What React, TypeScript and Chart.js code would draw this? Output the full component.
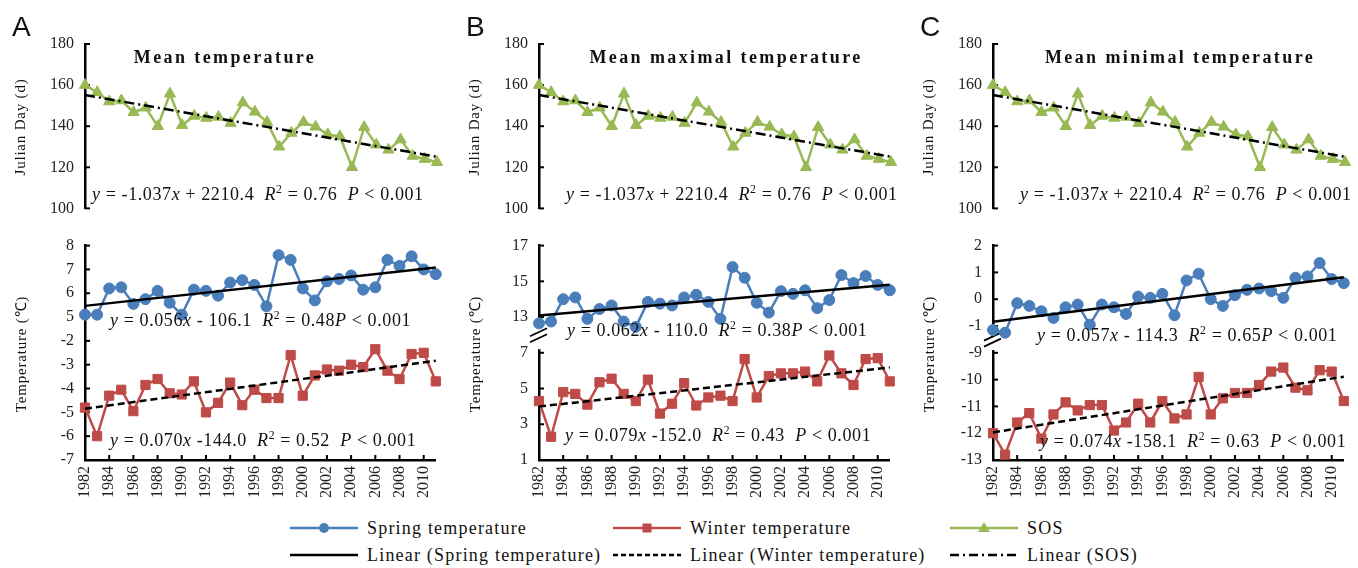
import React, { useEffect, useRef } from 'react';
import { Chart, registerables } from 'chart.js';

Chart.register(...registerables);

// ---------------- DATA ----------------
const YEARS = ['1982', '1983', '1984', '1985', '1986', '1987', '1988', '1989', '1990', '1991',
  '1992', '1993', '1994', '1995', '1996', '1997', '1998', '1999', '2000', '2001',
  '2002', '2003', '2004', '2005', '2006', '2007', '2008', '2009', '2010', '2011'];

const SOS = [160, 156.5, 152, 152.5, 146.8, 149, 140, 155.8, 140.5, 145,
  144, 144.5, 141.5, 151.5, 147, 142, 130, 136.7, 142, 139.7,
  136, 135, 120, 139.5, 131, 128.5, 133.5, 125.5, 124, 122.5];
const SOS_TREND = [155.2, 125.1];

const SPRING_MEAN = [5.1, 5.1, 6.2, 6.25, 5.55, 5.75, 6.1, 5.6, 5.1, 6.15,
  6.1, 5.9, 6.45, 6.55, 6.35, 5.45, 7.6, 7.4, 6.2, 5.7,
  6.5, 6.6, 6.75, 6.15, 6.25, 7.4, 7.15, 7.55, 7.0, 6.8];
const WINTER_MEAN = [-4.8, -6.0, -4.3, -4.05, -4.95, -3.85, -3.6, -4.2, -4.25, -3.7,
  -5.0, -4.6, -3.75, -4.7, -4.05, -4.4, -4.4, -2.6, -4.3, -3.45,
  -3.2, -3.25, -3.0, -3.1, -2.35, -3.25, -3.6, -2.55, -2.5, -3.7];
const SPRING_MEAN_TREND = [5.47, 7.08];
const WINTER_MEAN_TREND = [-4.85, -2.83];

const SPRING_MAX = [12.65, 12.75, 14.0, 14.1, 12.9, 13.45, 13.65, 12.75, 12.45, 13.85,
  13.75, 13.65, 14.1, 14.25, 13.85, 12.9, 15.8, 15.2, 13.8, 13.25,
  14.45, 14.3, 14.5, 13.5, 13.95, 15.35, 14.9, 15.3, 14.8, 14.5];
const WINTER_MAX = [4.3, 2.3, 4.8, 4.7, 4.1, 5.35, 5.55, 4.7, 4.3, 5.5,
  3.6, 4.15, 5.3, 4.05, 4.5, 4.6, 4.3, 6.65, 4.5, 5.7,
  5.85, 5.85, 5.95, 5.4, 6.85, 5.85, 5.2, 6.65, 6.7, 5.4];
const SPRING_MAX_TREND = [13.09, 14.81];
const WINTER_MAX_TREND = [3.99, 6.18];

const SPRING_MIN = [-1.15, -1.25, -0.15, -0.25, -0.45, -0.7, -0.3, -0.2, -0.95, -0.2,
  -0.3, -0.55, 0.1, 0.05, 0.2, -0.6, 0.7, 0.95, 0.0, -0.25,
  0.15, 0.35, 0.4, 0.3, 0.05, 0.8, 0.85, 1.35, 0.75, 0.6];
const WINTER_MIN = [-12.0, -12.8, -11.6, -11.25, -12.2, -11.3, -10.85, -11.15, -10.95, -10.95,
  -11.9, -11.6, -10.9, -11.6, -10.8, -11.45, -11.3, -9.9, -11.3, -10.7,
  -10.5, -10.5, -10.2, -9.7, -9.55, -10.3, -10.4, -9.65, -9.7, -10.8];
const SPRING_MIN_TREND = [-0.84, 0.82];
const WINTER_MIN_TREND = [-11.97, -9.89];

const SOS_TICKS = [100, 120, 140, 160, 180];
const MEAN_TICKS = [-7, -6, -5, -4, -3, -2, 5, 6, 7, 8];
const MAX_TICKS = [1, 3, 5, 7, 13, 15, 17];
const MIN_TICKS = [-13, -12, -11, -10, -9, -1, 0, 1, 2];

// ---------------- STYLE ----------------
const BLUE = '#4A7EBB';
const RED = '#BE4B48';
const GREEN = '#98B954';
const SERIF = '"Liberation Serif", "Times New Roman", serif';
const TICK_FONT = { family: SERIF, size: 16 };
const X_FONT = { family: SERIF, size: 16 };

// map a real value onto the broken axis (slot index space)
function toSlot(ticks: number[], segStart: number, v: number) {
  const step = ticks[segStart + 1] - ticks[segStart];
  return segStart + (v - ticks[segStart]) / step;
}

const innerTicks = {
  id: 'innerTicks',
  beforeDatasetsDraw(chart: any, _args: any, opts: any) {
    const { ctx, chartArea } = chart;
    ctx.save();
    ctx.strokeStyle = '#000';
    ctx.lineWidth = 2;
    const ys = chart.scales.y;
    ys.ticks.forEach((t: any) => {
      const p = ys.getPixelForValue(t.value);
      ctx.beginPath();
      ctx.moveTo(chartArea.left, p);
      ctx.lineTo(chartArea.left + 5, p);
      ctx.stroke();
    });
    const xs = chart.scales.x;
    if (xs.options.display !== false) {
      xs.ticks.forEach((t: any, i: number) => {
        if (i % 2 !== 0) return;
        const p = xs.getPixelForValue(t.value);
        ctx.beginPath();
        ctx.moveTo(p, chartArea.bottom);
        ctx.lineTo(p, chartArea.bottom - 5);
        ctx.stroke();
      });
    }
    if (opts && opts.breakAt) {
      const [lo, hi] = opts.breakAt;
      const yTop = ys.getPixelForValue(hi - 0.12);
      const yBot = ys.getPixelForValue(lo + 0.1);
      ctx.fillStyle = '#fff';
      ctx.fillRect(chartArea.left - 3, yTop, 6, yBot - yTop);
      const yc = (yTop + yBot) / 2;
      ctx.lineWidth = 1.8;
      [-3, 3].forEach((off) => {
        ctx.beginPath();
        ctx.moveTo(chartArea.left - 9, yc + off + 4);
        ctx.lineTo(chartArea.left + 8, yc + off - 4);
        ctx.stroke();
      });
    }
    ctx.restore();
  },
};

const PAD_R = 24;
const AXIS_W = 85;
const CW = AXIS_W + 352 + PAD_R;

function trendData(pair: number[], map: (v: number) => number) {
  return [
    { x: YEARS[0], y: map(pair[0]) },
    { x: YEARS[YEARS.length - 1], y: map(pair[1]) },
  ];
}

function upperConfig(): any {
  return {
    type: 'line',
    data: {
      labels: YEARS,
      datasets: [
        {
          data: trendData(SOS_TREND, (v) => v),
          borderColor: '#000', borderWidth: 2.5, borderDash: [10, 4, 2, 4], pointRadius: 0,
        },
        {
          data: SOS,
          borderColor: GREEN, borderWidth: 2.5,
          pointStyle: 'triangle', pointRadius: 6.5,
          pointBackgroundColor: GREEN, pointBorderColor: GREEN, pointBorderWidth: 1,
        },
      ],
    },
    options: {
      animation: false, responsive: false, devicePixelRatio: 1,
      layout: { padding: { left: 0, right: PAD_R, top: 44, bottom: 10 } },
      elements: { line: { tension: 0 } },
      plugins: { legend: { display: false }, tooltip: { enabled: false } },
      scales: {
        x: { type: 'category', display: false, offset: false },
        y: {
          min: 100, max: 180,
          afterBuildTicks: (s: any) => { s.ticks = SOS_TICKS.map((v) => ({ value: v })); },
          ticks: { font: TICK_FONT, color: '#222', padding: 11 },
          grid: { display: false, drawTicks: false },
          border: { display: true, color: '#000', width: 2.5 },
          afterFit: (s: any) => { s.width = AXIS_W; },
        },
      },
    },
    plugins: [innerTicks],
  };
}

function lowerConfig(ticks: number[], upperStart: number, spring: number[], winter: number[],
  springTrend: number[], winterTrend: number[], breakAt: number[] | null): any {
  const mapS = (v: number) => toSlot(ticks, upperStart, v);
  const mapW = (v: number) => toSlot(ticks, 0, v);
  return {
    type: 'line',
    data: {
      labels: YEARS,
      datasets: [
        {
          data: trendData(springTrend, mapS),
          borderColor: '#000', borderWidth: 2.5, pointRadius: 0,
        },
        {
          data: trendData(winterTrend, mapW),
          borderColor: '#000', borderWidth: 2.5, borderDash: [7, 4], pointRadius: 0,
        },
        {
          data: spring.map(mapS),
          borderColor: BLUE, borderWidth: 2.5,
          pointStyle: 'circle', pointRadius: 5.5,
          pointBackgroundColor: BLUE, pointBorderColor: BLUE, pointBorderWidth: 1,
        },
        {
          data: winter.map(mapW),
          borderColor: RED, borderWidth: 2.5,
          pointStyle: 'rect', pointRadius: 6.5,
          pointBackgroundColor: RED, pointBorderColor: RED, pointBorderWidth: 1,
        },
      ],
    },
    options: {
      animation: false, responsive: false, devicePixelRatio: 1,
      layout: { padding: { left: 0, right: PAD_R, top: 11, bottom: 0 } },
      elements: { line: { tension: 0 } },
      plugins: { legend: { display: false }, tooltip: { enabled: false }, innerTicks: { breakAt } },
      scales: {
        x: {
          type: 'category', offset: false,
          ticks: {
            autoSkip: false, minRotation: 90, maxRotation: 90, padding: 6,
            font: X_FONT, color: '#222',
            callback: (_v: any, i: number) => (i % 2 === 0 ? YEARS[i] : ''),
          },
          grid: { display: false, drawTicks: false },
          border: { display: true, color: '#000', width: 2.5 },
          afterFit: (s: any) => { s.height = 45; },
        },
        y: {
          min: 0, max: ticks.length - 1,
          ticks: {
            stepSize: 1, font: TICK_FONT, color: '#222', padding: 11,
            callback: (v: any) => String(ticks[Math.round(Number(v))]),
          },
          grid: { display: false, drawTicks: false },
          border: { display: true, color: '#000', width: 2.5 },
          afterFit: (s: any) => { s.width = AXIS_W; },
        },
      },
    },
    plugins: [innerTicks],
  };
}

function ChartBox({ left, top, width, height, make }: any) {
  const ref = useRef<HTMLCanvasElement>(null);
  useEffect(() => {
    const chart = new Chart(ref.current as HTMLCanvasElement, make());
    return () => chart.destroy();
  }, []);
  return (
    <canvas ref={ref} width={width} height={height}
      style={{ position: 'absolute', left, top, width, height }} />
  );
}

const eqStyle: React.CSSProperties = {
  position: 'absolute', fontFamily: SERIF, fontSize: 18, letterSpacing: 0.6,
  whiteSpace: 'pre', color: '#111', lineHeight: '22px',
};

function Eq({ left, cy, slope, rest, r2, gapP }: any) {
  return (
    <div style={{ ...eqStyle, left, top: cy - 11 }}>
      <i>y</i>{' = ' + slope}<i>x</i>{rest + '  '}<i>R</i>
      <sup style={{ fontSize: '0.65em', lineHeight: 0 }}>2</sup>
      {' = ' + r2 + gapP}<i>P</i>{' < 0.001'}
    </div>
  );
}

function Title({ cx, text }: any) {
  return (
    <div style={{
      position: 'absolute', left: cx, top: 47, transform: 'translateX(-50%)',
      fontFamily: SERIF, fontWeight: 'bold', fontSize: 18, letterSpacing: 2.4, whiteSpace: 'pre',
    }}>{text}</div>
  );
}

function VTitle({ cx, cy, text }: any) {
  return (
    <div style={{
      position: 'absolute', left: cx, top: cy, transform: 'translate(-50%,-50%) rotate(-90deg)',
      fontFamily: SERIF, fontSize: 15, letterSpacing: 0.8, whiteSpace: 'pre', color: '#111',
    }}>{text}</div>
  );
}

function Letter({ left, text }: any) {
  return (
    <div style={{
      position: 'absolute', left, top: 12, fontFamily: '"Liberation Sans", Arial, sans-serif',
      fontSize: 28, lineHeight: '30px',
    }}>{text}</div>
  );
}

function LegendIcon({ color, marker, dash }: any) {
  return (
    <svg width={70} height={16} style={{ position: 'absolute', left: 0, top: -8 }}>
      <line x1={0} y1={8} x2={68} y2={8} stroke={color} strokeWidth={2.5}
        strokeDasharray={dash || undefined} />
      {marker === 'circle' && <circle cx={34} cy={8} r={5} fill={color} />}
      {marker === 'rect' && <rect x={29.5} y={3.5} width={9} height={9} fill={color} />}
      {marker === 'triangle' && <polygon points="34,2 40,12 28,12" fill={color} />}
    </svg>
  );
}

function LegendItem({ x, cy, color, marker, dash, text }: any) {
  return (
    <div style={{ position: 'absolute', left: x, top: cy }}>
      <LegendIcon color={color} marker={marker} dash={dash} />
      <div style={{
        position: 'absolute', left: 77, top: -12, lineHeight: '24px', fontFamily: SERIF,
        fontSize: 18, letterSpacing: 1.2, whiteSpace: 'pre', color: '#111',
      }}>{text}</div>
    </div>
  );
}

const PANELS = [
  { key: 'A', left: 0, title: 'Mean temperature', titleX: 225, ticks: MEAN_TICKS, upper: 6,
    spring: SPRING_MEAN, winter: WINTER_MEAN, st: SPRING_MEAN_TREND, wt: WINTER_MEAN_TREND, brk: null,
    eqS: { slope: '0.056', rest: ' - 106.1', r2: '0.48', gapP: '', cy: 320, dx: 25 },
    eqW: { slope: '0.070', rest: ' -144.0', r2: '0.52', gapP: '  ', cy: 440, dx: 25 } },
  { key: 'B', left: 454, title: 'Mean maximal temperature', titleX: 726, ticks: MAX_TICKS, upper: 4,
    spring: SPRING_MAX, winter: WINTER_MAX, st: SPRING_MAX_TREND, wt: WINTER_MAX_TREND, brk: [3, 4],
    eqS: { slope: '0.062', rest: ' - 110.0', r2: '0.38', gapP: '', cy: 330, dx: 28 },
    eqW: { slope: '0.079', rest: ' -152.0', r2: '0.43', gapP: '  ', cy: 435, dx: 26 } },
  { key: 'C', left: 908, title: 'Mean minimal temperature', titleX: 1180, ticks: MIN_TICKS, upper: 5,
    spring: SPRING_MIN, winter: WINTER_MIN, st: SPRING_MIN_TREND, wt: WINTER_MIN_TREND, brk: [4, 5],
    eqS: { slope: '0.057', rest: ' - 114.3', r2: '0.65', gapP: '', cy: 335, dx: 44 },
    eqW: { slope: '0.074', rest: ' -158.1', r2: '0.63', gapP: '  ', cy: 441, dx: 47 } },
];

export default function App() {
  return (
    <div style={{
      position: 'fixed', left: 0, top: 0, width: 1358, height: 568, overflow: 'hidden',
      background: '#fff', color: '#111',
    }}>
      {PANELS.map((p) => (
        <React.Fragment key={p.key}>
          <ChartBox left={p.left} top={0} width={CW} height={229} make={upperConfig} />
          <ChartBox left={p.left} top={225} width={CW} height={280}
            make={() => lowerConfig(p.ticks, p.upper, p.spring, p.winter, p.st, p.wt, p.brk)} />
          <Letter left={p.left + 12} text={p.key} />
          <Title cx={p.titleX} text={p.title} />
          <VTitle cx={p.left + 20} cy={127} text="Julian Day (d)" />
          <VTitle cx={p.left + 20} cy={354} text="Temperature (℃)" />
          <Eq left={p.left + AXIS_W + 7 + (p.key === 'A' ? 0 : 20)} cy={194}
            slope="-1.037" rest=" + 2210.4" r2="0.76" gapP="  " />
          <Eq left={p.left + AXIS_W + p.eqS.dx} cy={p.eqS.cy} {...p.eqS} />
          <Eq left={p.left + AXIS_W + p.eqW.dx} cy={p.eqW.cy} {...p.eqW} />
        </React.Fragment>
      ))}
      <LegendItem x={290} cy={528} color={BLUE} marker="circle" text="Spring temperature" />
      <LegendItem x={613} cy={528} color={RED} marker="rect" text="Winter temperature" />
      <LegendItem x={950} cy={528} color={GREEN} marker="triangle" text="SOS" />
      <LegendItem x={290} cy={555} color="#000" text="Linear (Spring temperature)" />
      <LegendItem x={613} cy={555} color="#000" dash="5 3" text="Linear (Winter temperature)" />
      <LegendItem x={950} cy={555} color="#000" dash="9 4 2 4" text="Linear (SOS)" />
    </div>
  );
}
